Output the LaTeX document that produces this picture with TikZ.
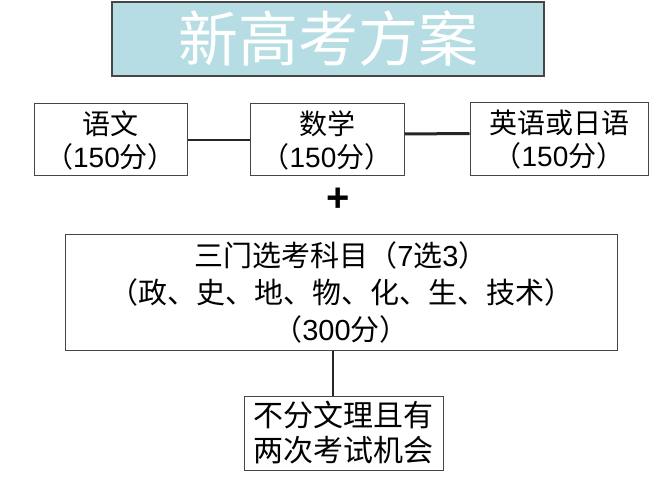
\documentclass[tikz,border=0pt]{standalone}
\usepackage{fontspec}
\setmainfont{Noto Sans CJK SC}
\newfontfamily\lat{Liberation Sans}
\definecolor{titlefill}{RGB}{181,221,227}
\definecolor{boxline}{RGB}{70,70,70}

\begin{document}
\begin{tikzpicture}[x = 1pt, y = -1pt, line width = 1pt,
                        titlebox/.style = {draw = boxline, line width = 1.8pt, fill = titlefill,
                                           text = white, inner sep = 0pt,
                                           font = \fontsize{60}{60}\selectfont},
                        subject/.style = {draw = boxline, fill = white, align = center, inner sep = 0pt,
                                          font = \fontsize{28}{33}\selectfont},
                        link/.style = {draw = black!85, line width = 1.5pt}]
      \useasboundingbox (0, 0) rectangle (667, 500);

      \node [titlebox, minimum width = 432pt, minimum height = 74pt] (t) at (328, 39){新高考方案};

      \node [subject, minimum width = 153pt, minimum height = 72pt] (s1) at (110.5, 140){语文\\（{\lat 150}分）};
      \node [subject, minimum width = 154pt, minimum height = 72pt] (s2) at (327, 140){数学\\（{\lat 150}分）};
      \node [subject, minimum width = 178pt, minimum height = 73pt] (s3) at (559, 139.5){英语或日语\\（{\lat 150}分）};

      \node [font = \lat\bfseries\fontsize{40}{40}\selectfont, inner sep = 0pt] (p) at (338, 200){+};

      \node [subject, minimum width = 552pt, minimum height = 116pt,
             font = \fontsize{29}{37}\selectfont] (m) at (341, 292){三门选考科目（{\lat 7}选{\lat 3}）\\（政、史、地、物、化、生、技术）\\（{\lat 300}分）};

      \node [subject, minimum width = 199pt, minimum height = 74pt,
             font = \fontsize{30}{35}\selectfont] (n) at (343.5, 433){不分文理且有\\两次考试机会};

      \coordinate (v) at (333, 375);

      \draw [link] (s1.east) -- (s2.west);
      \draw [link, line width = 3pt] ([yshift = 6pt]s2.east) -- ([yshift = 6pt]s3.west);
      \draw [link, line width = 2.5pt] (v |- m.south) -- (v |- n.north);

      \end{tikzpicture}
\end{document}
